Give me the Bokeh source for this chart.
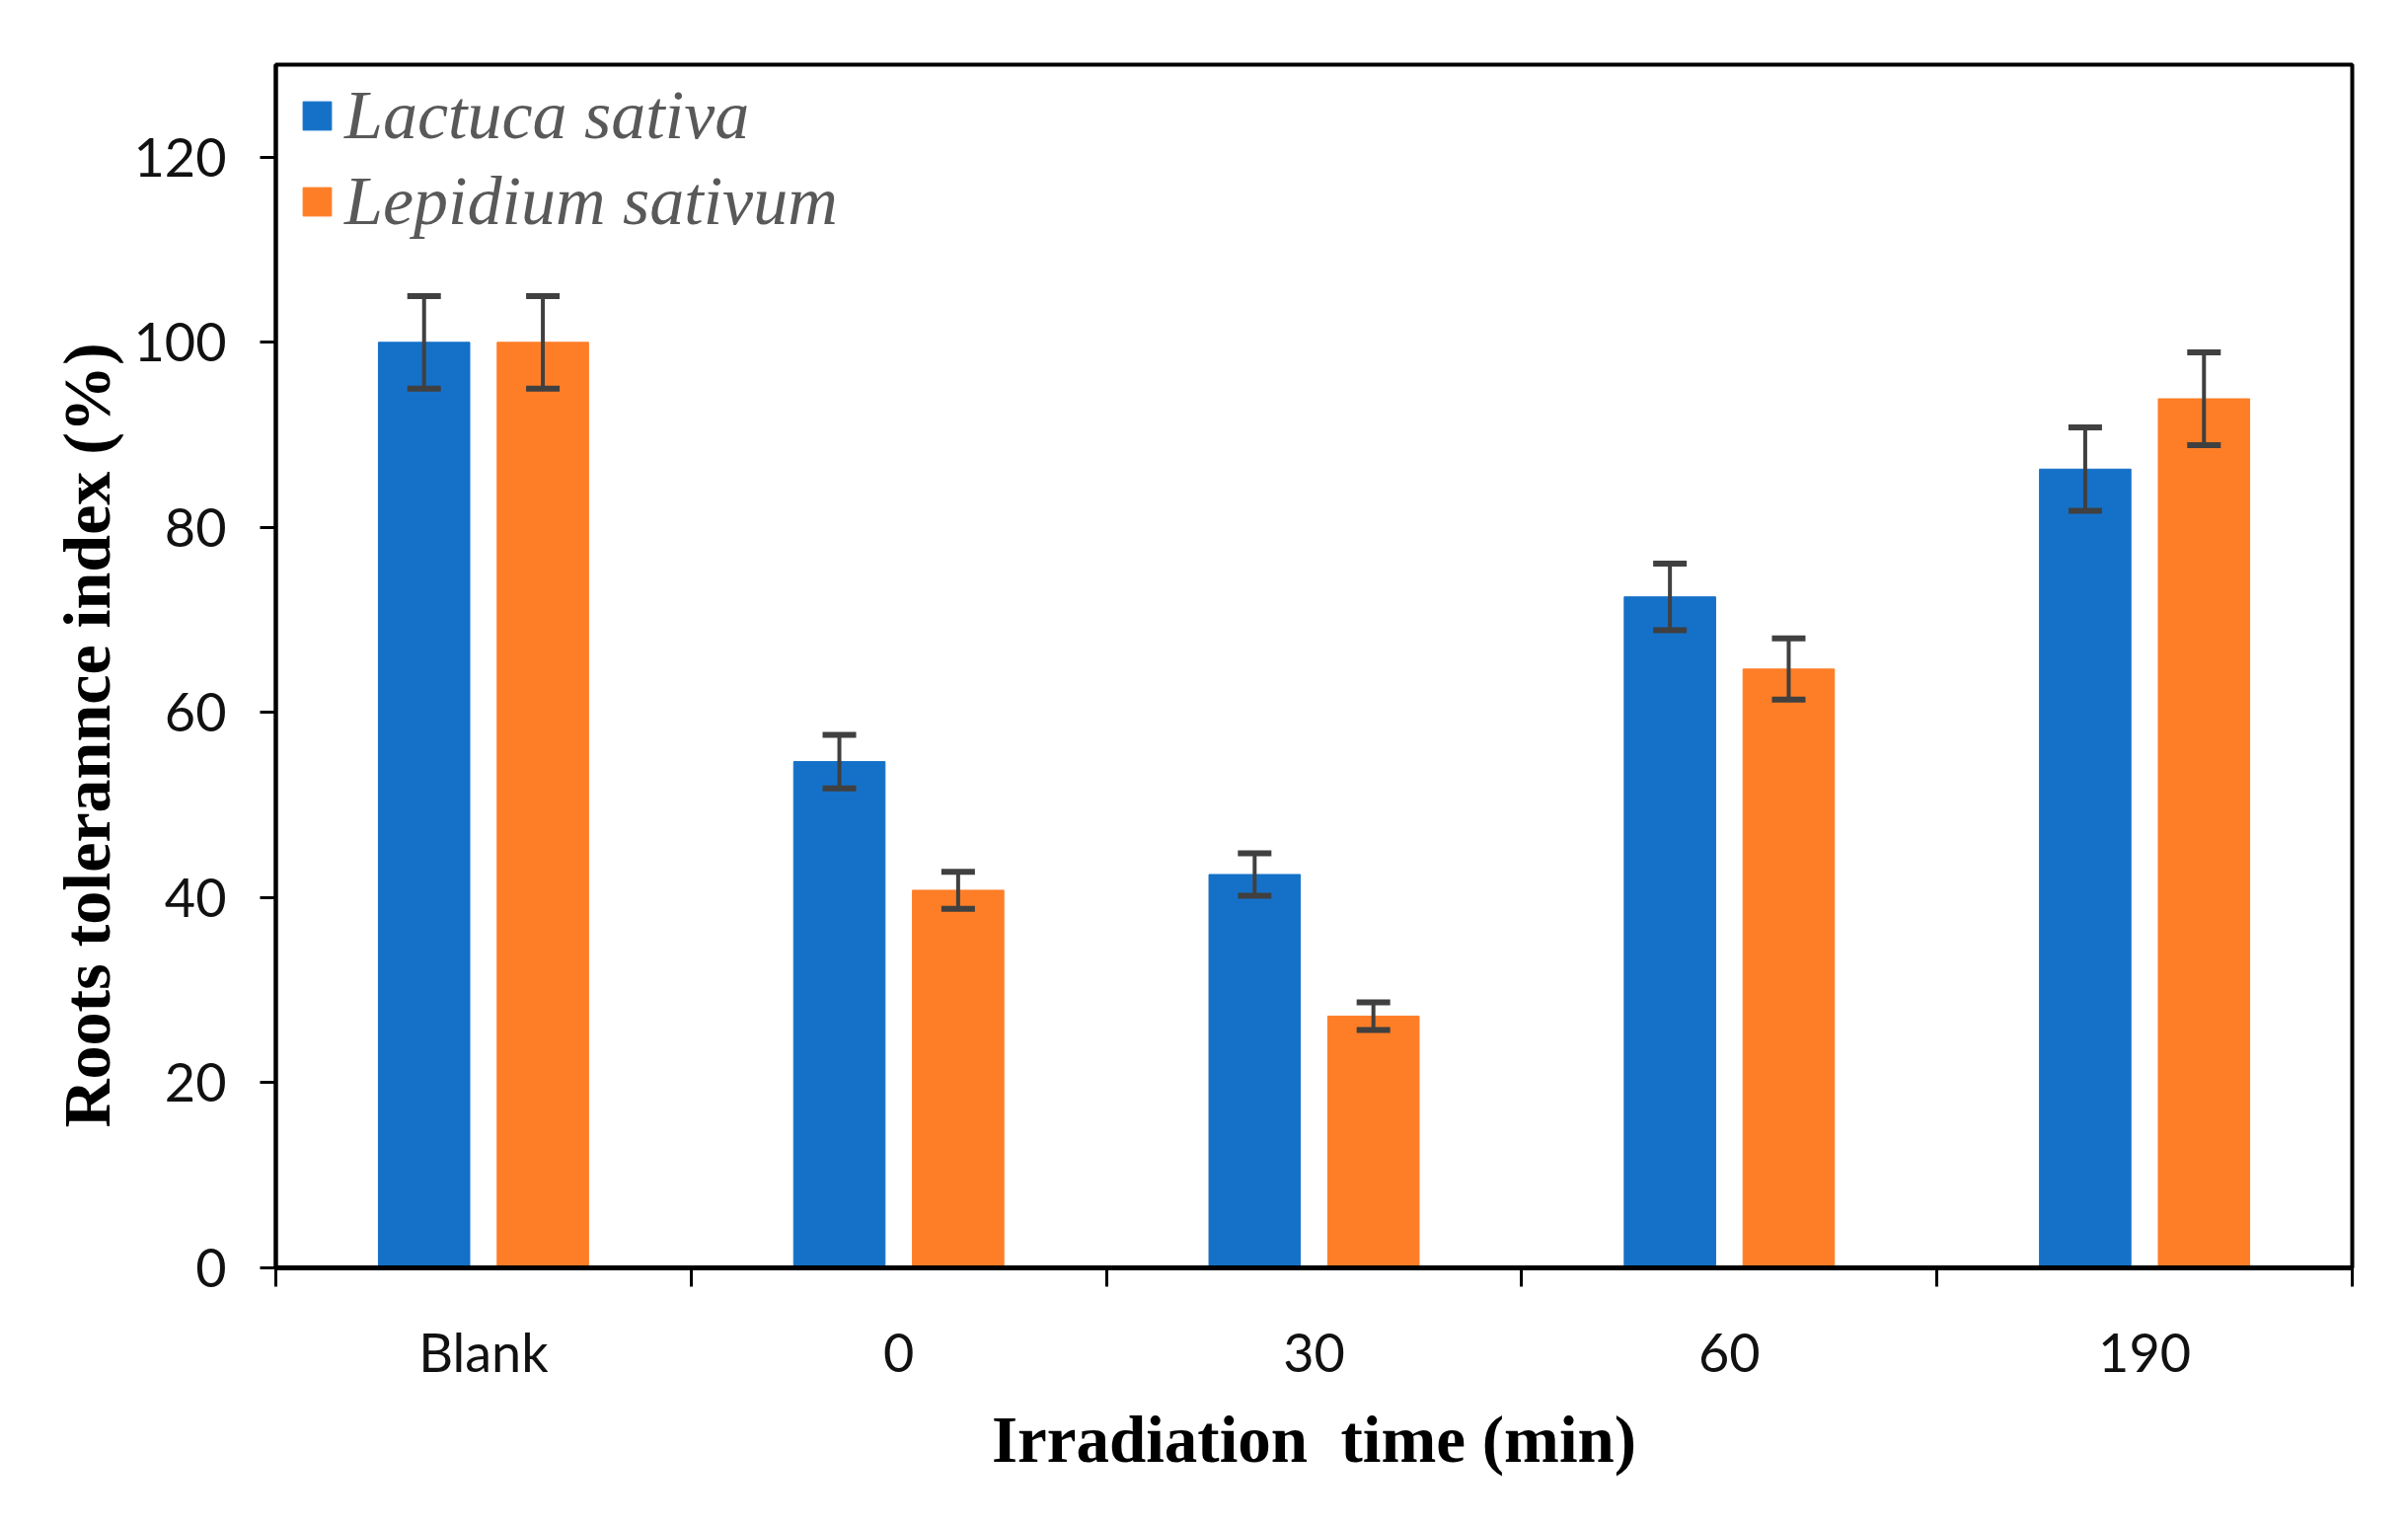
from bokeh.plotting import figure
from bokeh.models import (ColumnDataSource, Range1d, LinearAxis, FixedTicker, Whisker, TeeHead,
                          Legend, LegendItem, Title)
from bokeh.transform import dodge
from bokeh.embed import file_html
from bokeh.resources import INLINE

categories = ["Blank", "0", "30", "60", "190"]
lactuca = [100.0, 54.7, 42.5, 72.5, 86.3]
lactuca_err = [5.0, 2.9, 2.3, 3.6, 4.5]
lepidium = [100.0, 40.8, 27.2, 64.7, 93.9]
lepidium_err = [5.0, 2.0, 1.5, 3.3, 5.0]
y_ticks = [0, 20, 40, 60, 80, 100, 120]
series_names = ["Lactuca sativa", "Lepidium sativum"]
x_title = "Irradiation\u00a0 time (min)"
y_title = "Roots tolerannce index (%)"

BLUE = "#1571C8"
ORANGE = "#FE7E27"

centers = [i + 0.5 for i in range(len(categories))]
src = ColumnDataSource(dict(
    xc=centers, cat=categories,
    l=lactuca, l_up=[v + e for v, e in zip(lactuca, lactuca_err)], l_lo=[v - e for v, e in zip(lactuca, lactuca_err)],
    p=lepidium, p_up=[v + e for v, e in zip(lepidium, lepidium_err)], p_lo=[v - e for v, e in zip(lepidium, lepidium_err)],
))

W, H = 2424, 1529
p = figure(width=W, height=H, x_range=Range1d(0, len(categories)),
           y_range=Range1d(0, 130), output_backend="svg", toolbar_location=None,
           x_axis_location=None, min_border_left=279, min_border_right=41,
           min_border_top=65, min_border_bottom=245)
p.grid.visible = False
p.outline_line_color = "black"
p.outline_line_width = 4
p.background_fill_color = "white"

# boundary ticks axis (ticks only)
bax = LinearAxis(ticker=FixedTicker(ticks=list(range(len(categories) + 1))),
                 major_label_overrides={i: "" for i in range(len(categories) + 1)},
                 major_tick_out=19, major_tick_in=0, minor_tick_line_color=None,
                 major_tick_line_width=3, axis_line_width=5, axis_line_color="black",
                 major_label_text_font_size="2px", major_label_standoff=0)
p.add_layout(bax, "below")
cax = LinearAxis(ticker=FixedTicker(ticks=centers),
                 major_label_overrides={c: n for c, n in zip(centers, categories)},
                 axis_line_color=None, major_tick_line_color=None, minor_tick_line_color=None,
                 major_label_text_font="Lato", major_label_text_font_size="54px",
                 major_label_text_color="#111111", major_label_standoff=27,
                 axis_label=x_title, axis_label_text_font="Liberation Serif",
                 axis_label_text_font_style="bold", axis_label_text_font_size="67px",
                 axis_label_standoff=16, axis_label_text_color="black")
p.add_layout(cax, "below")

yax = p.yaxis[0]
yax.ticker = FixedTicker(ticks=y_ticks)
yax.major_tick_out = 16
yax.major_tick_in = 0
yax.major_tick_line_width = 3
yax.minor_tick_line_color = None
yax.axis_line_width = 4
yax.major_label_text_font = "Lato"
yax.major_label_text_font_size = "54px"
yax.major_label_text_color = "#111111"
yax.major_label_standoff = 34

# y title, starting a little above the bottom of the frame as in the reference
ytitle = Title(text=y_title, align="left", offset=142, standoff=14,
               text_font="Liberation Serif", text_font_style="bold",
               text_font_size="68px", text_color="black")
p.add_layout(ytitle, "left")

bw = 0.22
off = 0.143
r1 = p.vbar(x=dodge("xc", -off), top="l", width=bw, source=src,
            fill_color=BLUE, line_color=BLUE)
r2 = p.vbar(x=dodge("xc", off), top="p", width=bw, source=src,
            fill_color=ORANGE, line_color=ORANGE)

for base, up, lo in [(-off, "l_up", "l_lo"), (off, "p_up", "p_lo")]:
    w = Whisker(base=dodge("xc", base), upper=up, lower=lo, source=src,
                line_color="#404040", line_width=4, level="overlay",
                upper_head=TeeHead(size=34, line_color="#404040", line_width=6),
                lower_head=TeeHead(size=34, line_color="#404040", line_width=6))
    p.add_layout(w)

legend = Legend(items=[LegendItem(label=series_names[0], renderers=[r1]),
                       LegendItem(label=series_names[1], renderers=[r2])],
                location=(24, 1226 - 19 - 167), margin=0, padding=0, spacing=7,
                glyph_width=36, glyph_height=36, label_height=80, label_standoff=10,
                label_text_font="Liberation Serif", label_text_font_style="italic",
                label_text_font_size="70px", label_text_color="#595959",
                border_line_color=None, background_fill_alpha=0)
p.add_layout(legend)

open("out.html", "w").write(file_html(p, INLINE))
